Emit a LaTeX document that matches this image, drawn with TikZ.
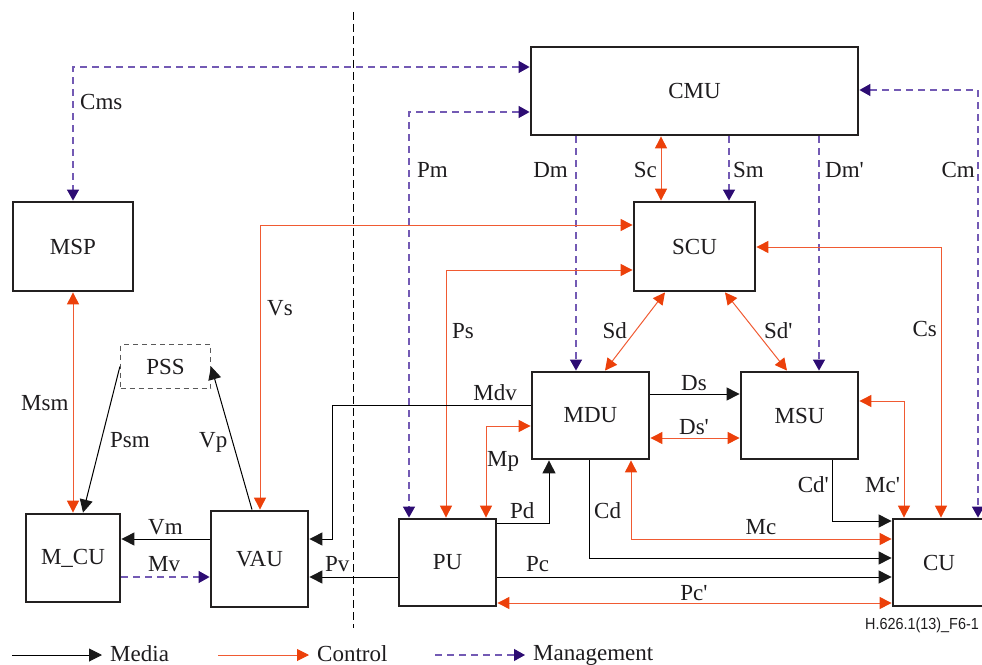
\documentclass[tikz,border=0pt]{standalone}
\usepackage{fontspec}
\usepackage{graphicx}
\setmainfont{Liberation Serif}
\newfontfamily\idfont{Liberation Sans}
\usetikzlibrary{arrows.meta}
\definecolor{ctrlline}{RGB}{240,90,50}
\definecolor{ctrlhead}{RGB}{236,64,10}
\definecolor{mgline}{RGB}{115,90,180}
\definecolor{mghead}{RGB}{45,12,115}
\definecolor{txt}{RGB}{30,28,30}
\definecolor{boxline}{RGB}{35,32,32}
\newcommand{\apos}{\textquotesingle}
\begin{document}
\begin{tikzpicture}[x=1bp,y=-1bp,
  font=\fontsize{23bp}{27bp}\selectfont,
  box/.style={draw=boxline,line width=2.8bp,inner sep=0pt,text=txt},
  dbox/.style={draw=black!65,line width=1.2bp,dash pattern=on 5bp off 4bp,inner sep=0pt,text=txt},
  lbl/.style={inner sep=0pt,text=txt},
  media/.style={draw=black,line width=1bp,>={Triangle[length=13bp,width=13bp,color=black!90]}},
  ctrl/.style={draw=ctrlline,line width=1bp,>={Triangle[length=12bp,width=12bp,color=ctrlhead]}},
  mgmt/.style={draw=mgline,line width=1.2bp,dash pattern=on 7bp off 5bp,>={Triangle[length=11bp,width=12bp,color=mghead]}},
  sepline/.style={draw=black,line width=0.9bp,dash pattern=on 8bp off 4bp}]
\useasboundingbox (0,0) rectangle (982,665);
\clip (0,0) rectangle (982,665);

% boxes
\node[box,minimum width=327bp,minimum height=88bp] (cmu) at (694.5,91) {CMU};
\node[box,minimum width=121bp,minimum height=89bp] (scu) at (694.5,246.5) {SCU};
\node[box,minimum width=120bp,minimum height=89bp] (msp) at (73,246.5) {MSP};
\node[dbox,minimum width=90bp,minimum height=44bp] (pss) at (165.5,366.5) {PSS};
\node[box,minimum width=94bp,minimum height=88bp] (mcu) at (73,558) {M\_CU};
\node[box,minimum width=97bp,minimum height=96bp] (vau) at (259.5,559) {VAU};
\node[box,minimum width=97bp,minimum height=87bp] (pu) at (447.5,562.5) {PU};
\node[box,minimum width=117bp,minimum height=87bp] (mdu) at (590.5,415.5) {MDU};
\node[box,minimum width=117bp,minimum height=87bp] (msu) at (799.5,415.5) {MSU};
\node[box,minimum width=92bp,minimum height=87bp] (cu) at (939,562.5) {CU};

% separator
\coordinate (sepT) at (353,12);
\coordinate (sepB) at (353,628);
\draw[sepline] (sepT) -- (sepB);

% management
\draw[mgmt,<->] (cmu.west |- 0,67) -| (msp.north);
\draw[mgmt,<->] (cmu.west |- 0,112) -| (pu.north -| 409,0);
\draw[mgmt,->] (cmu.south -| 576,0) -- (mdu.north -| 576,0);
\draw[mgmt,->] (cmu.south -| 729,0) -- (scu.north -| 729,0);
\draw[mgmt,->] (cmu.south -| 819,0) -- (msu.north -| 819,0);
\draw[mgmt,<->] (cmu.east |- 0,90) -| (cu.north -| 978,0);
\draw[mgmt,->] (mcu.east |- 0,577) -- (vau.west |- 0,577);

% control
\draw[ctrl,<->] (cmu.south -| 661,0) -- (scu.north -| 661,0);
\draw[ctrl,<->] (scu.west |- 0,225) -| (vau.north -| 260,0);
\draw[ctrl,<->] (scu.west |- 0,270) -| (pu.north -| 446,0);
\draw[ctrl,<->] (scu.east |- 0,247) -| (cu.north -| 941,0);
\draw[ctrl,<->] (scu.south -| 665,0) -- (mdu.north -| 605,0);
\draw[ctrl,<->] (scu.south -| 725,0) -- (msu.north -| 787,0);
\draw[ctrl,<->] (msp.south) -- (mcu.north);
\draw[ctrl,<->] (mdu.west |- 0,426) -| (pu.north -| 486,0);
\draw[ctrl,<->] (mdu.east |- 0,438) -- (msu.west |- 0,438);
\draw[ctrl,<->] (mdu.south -| 631,0) |- (cu.west |- 0,539);
\draw[ctrl,<->] (msu.east |- 0,401) -| (cu.north -| 904,0);
\draw[ctrl,<->] (pu.east |- 0,603) -- (cu.west |- 0,603);

% media
\draw[media,->] (pss.west) -- (mcu.north -| 83,0);
\draw[media,->] (vau.north -| 252,0) -- (pss.east);
\draw[media,->] (vau.west |- 0,539) -- (mcu.east |- 0,539);
\draw[media,->] (mdu.west |- 0,405) -- (332,405) -- (332,539) -- (vau.east |- 0,539);
\draw[media,->] (pu.west |- 0,577) -- (vau.east |- 0,577);
\draw[media,->] (pu.east |- 0,523) -| (mdu.south -| 549,0);
\draw[media,->] (mdu.east |- 0,394) -- (msu.west |- 0,394);
\draw[media,->] (mdu.south -| 589,0) |- (cu.west |- 0,558);
\draw[media,->] (msu.south -| 832,0) |- (cu.west |- 0,521);
\draw[media,->] (pu.east |- 0,577) -- (cu.west |- 0,577);

% labels
\node[lbl,anchor=base west] (lCms) at (80,110) {Cms};
\node[lbl,anchor=base west] (lPm) at (417,178) {Pm};
\node[lbl,anchor=base east] (lDm) at (568,178) {Dm};
\node[lbl,anchor=base east] (lSc) at (657,178) {Sc};
\node[lbl,anchor=base west] (lSm) at (733,178) {Sm};
\node[lbl,anchor=base west] (lDmp) at (825,178) {Dm\apos};
\node[lbl,anchor=base east] (lCm) at (975,178) {Cm};
\node[lbl,anchor=base west] (lVs) at (267,315) {Vs};
\node[lbl,anchor=base west] (lPs) at (452,338) {Ps};
\node[lbl,anchor=base east] (lCs) at (937,336) {Cs};
\node[lbl,anchor=base east] (lSd) at (627,338) {Sd};
\node[lbl,anchor=base west] (lSdp) at (764,338) {Sd\apos};
\node[lbl,anchor=base west] (lMsm) at (21,410) {Msm};
\node[lbl,anchor=base west] (lPsm) at (110,447) {Psm};
\node[lbl,anchor=base west] (lVp) at (199,447) {Vp};
\node[lbl,anchor=base west] (lVm) at (148,534) {Vm};
\node[lbl,anchor=base west] (lMv) at (148,571) {Mv};
\node[lbl,anchor=base west] (lPv) at (325,571) {Pv};
\node[lbl,anchor=base east] (lMdv) at (517,400) {Mdv};
\node[lbl,anchor=base west] (lMp) at (487,466) {Mp};
\node[lbl,anchor=base west] (lPd) at (510,518) {Pd};
\node[lbl,anchor=base] (lDs) at (694,390) {Ds};
\node[lbl,anchor=base] (lDsp) at (694,434) {Ds\apos};
\node[lbl,anchor=base west] (lCd) at (594,518) {Cd};
\node[lbl,anchor=base] (lMc) at (761,534) {Mc};
\node[lbl,anchor=base east] (lCdp) at (829,492) {Cd\apos};
\node[lbl,anchor=base west] (lMcp) at (865,492) {Mc\apos};
\node[lbl,anchor=base west] (lPc) at (526,571) {Pc};
\node[lbl,anchor=base] (lPcp) at (694,600) {Pc\apos};

% figure id
\node[lbl,anchor=base west,font=\idfont\fontsize{16bp}{18bp}\selectfont] (figid) at (865,629) {\scalebox{0.9}[1]{H.626.1(13)\_F6-1}};

% legend
\node[lbl,anchor=base west] (lgMedia) at (110,661.5) {Media};
\node[lbl,anchor=base west] (lgCtrl) at (317,661.5) {Control};
\node[lbl,anchor=base west] (lgMgmt) at (533,660) {Management};
\coordinate (lgMedia0) at (12,655);
\coordinate (lgCtrl0) at (218,655);
\coordinate (lgMgmt0) at (435,655);
\draw[media,->] (lgMedia0) -- ([xshift=-8bp]lgMedia.west |- lgMedia0);
\draw[ctrl,->] (lgCtrl0) -- ([xshift=-8bp]lgCtrl.west |- lgCtrl0);
\draw[mgmt,->] (lgMgmt0) -- ([xshift=-8bp]lgMgmt.west |- lgMgmt0);
\end{tikzpicture}
\end{document}
